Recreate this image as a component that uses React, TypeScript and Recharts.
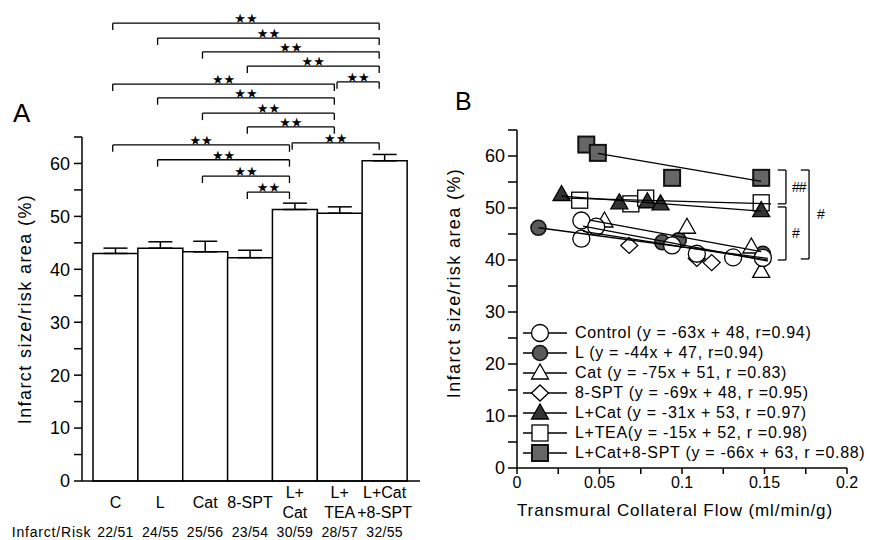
import React from "react";
import {
  BarChart,
  Bar,
  XAxis,
  YAxis,
  ErrorBar,
  ReferenceLine,
  ScatterChart,
  Scatter,
  Legend,
} from "recharts";

const FONT = "'Liberation Sans', Arial, Helvetica, sans-serif";

// ---- panel A ----
const groups = ["C", "L", "Cat", "8-SPT", "L+Cat", "L+TEA", "L+Cat+8-SPT"];
const groupTickLines = [["C"], ["L"], ["Cat"], ["8-SPT"], ["L+", "Cat"], ["L+", "TEA"], ["L+Cat", "+8-SPT"]];
const infarctSize = [43.0, 44.0, 43.3, 42.2, 51.3, 50.6, 60.5];
const infarctSem = [1.0, 1.2, 2.0, 1.4, 1.2, 1.2, 1.2];
const infarctRisk = ["22/51", "24/55", "25/56", "23/54", "30/59", "28/57", "32/55"];
const yTicks = [0, 5, 10, 15, 20, 25, 30, 35, 40, 45, 50, 55, 60, 65];

// significance brackets: from, to, level
const brackets: [string, string, number][] = [
  ["C", "L+Cat+8-SPT", 86.5],
  ["L", "L+Cat+8-SPT", 83.7],
  ["Cat", "L+Cat+8-SPT", 81.1],
  ["8-SPT", "L+Cat+8-SPT", 78.4],
  ["C", "L+TEA", 75.0],
  ["L+TEA", "L+Cat+8-SPT", 75.4],
  ["L", "L+TEA", 72.4],
  ["Cat", "L+TEA", 69.5],
  ["8-SPT", "L+TEA", 66.9],
  ["C", "L+Cat", 63.5],
  ["L+Cat", "L+Cat+8-SPT", 63.9],
  ["L", "L+Cat", 60.7],
  ["Cat", "L+Cat", 57.6],
  ["8-SPT", "L+Cat", 54.6],
];

// ---- panel B ----
const flowTicks = [0, 0.025, 0.05, 0.075, 0.1, 0.125, 0.15, 0.175, 0.2];
const flowTickLabels = ["0", "", "0.05", "", "0.1", "", "0.15", "", "0.2"];

const controlPts = [[0.039, 47.6], [0.039, 44.1], [0.048, 46.4], [0.094, 42.8], [0.109, 41.2], [0.131, 40.5], [0.149, 40.4]];
const lPts = [[0.013, 46.2], [0.088, 43.4], [0.098, 43.8], [0.149, 41.2]];
const catPts = [[0.053, 47.5], [0.103, 46.3], [0.142, 42.5], [0.148, 37.8]];
const sptPts = [[0.068, 42.8], [0.109, 40.3], [0.118, 39.5]];
const lCatPts = [[0.027, 52.6], [0.062, 51.0], [0.079, 51.2], [0.087, 50.8], [0.148, 49.5]];
const lTeaPts = [[0.038, 51.5], [0.069, 50.8], [0.078, 51.9], [0.148, 51.0]];
const lCatSptPts = [[0.042, 62.2], [0.049, 60.6], [0.094, 55.8], [0.148, 55.8]];

// regression line ends as drawn
const controlFit = [[0.04, 46.5], [0.152, 39.8]];
const lFit = [[0.013, 46.2], [0.152, 40.3]];
const catFit = [[0.045, 47.6], [0.148, 41.6]];
const sptFit = [[0.04, 45.5], [0.152, 40.0]];
const lCatFit = [[0.027, 52.3], [0.148, 49.4]];
const lTeaFit = [[0.03, 51.9], [0.154, 50.8]];
const lCatSptFit = [[0.049, 60.5], [0.148, 55.1]];

// B brackets: x, top, bottom, mark
const bBrackets: [number, number, number, string][] = [
  [0.163, 57.3, 50.8, "##"],
  [0.163, 50.2, 40.0, "#"],
  [0.177, 57.3, 40.2, "#"],
];

type Kind = "circle" | "dot" | "tri" | "diamond" | "ftri" | "square" | "fsquare";

const seriesB: { label: string; kind: Kind; pts: number[][]; fit: number[][] }[] = [
  { label: "L+TEA(y = -15x + 52, r =0.98)", kind: "square", pts: lTeaPts, fit: lTeaFit },
  { label: "L+Cat (y = -31x + 53, r =0.97)", kind: "ftri", pts: lCatPts, fit: lCatFit },
  { label: "L+Cat+8-SPT (y = -66x + 63, r =0.88)", kind: "fsquare", pts: lCatSptPts, fit: lCatSptFit },
  { label: "L (y = -44x + 47, r=0.94)", kind: "dot", pts: lPts, fit: lFit },
  { label: "8-SPT (y = -69x + 48, r =0.95)", kind: "diamond", pts: sptPts, fit: sptFit },
  { label: "Cat (y = -75x + 51, r =0.83)", kind: "tri", pts: catPts, fit: catFit },
  { label: "Control (y = -63x + 48, r=0.94)", kind: "circle", pts: controlPts, fit: controlFit },
];
const legendOrder: Kind[] = ["circle", "dot", "tri", "diamond", "ftri", "square", "fsquare"];

const Marker = ({ kind, cx, cy }: { kind: Kind; cx: number; cy: number }) => {
  switch (kind) {
    case "circle":
      return <circle cx={cx} cy={cy} r={8.5} fill="#fff" stroke="#000" strokeWidth={1.3} />;
    case "dot":
      return <circle cx={cx} cy={cy} r={7.5} fill="#5a5a5a" stroke="#111" strokeWidth={1.6} />;
    case "tri":
      return <polygon points={`${cx},${cy - 9} ${cx + 8.5},${cy + 6} ${cx - 8.5},${cy + 6}`} fill="#fff" stroke="#000" strokeWidth={1.3} />;
    case "ftri":
      return <polygon points={`${cx},${cy - 9} ${cx + 8.5},${cy + 6} ${cx - 8.5},${cy + 6}`} fill="#333" stroke="#000" strokeWidth={1.3} />;
    case "diamond":
      return <polygon points={`${cx},${cy - 8} ${cx + 8.5},${cy} ${cx},${cy + 8} ${cx - 8.5},${cy}`} fill="#fff" stroke="#000" strokeWidth={1.3} />;
    case "square":
      return <rect x={cx - 8} y={cy - 8} width={16} height={16} fill="#fff" stroke="#000" strokeWidth={1.3} />;
    default:
      return <rect x={cx - 8} y={cy - 8} width={16} height={16} fill="#666" stroke="#111" strokeWidth={2} />;
  }
};

const BarTick = (props: any) => {
  const { x, y, payload } = props;
  const i = groups.indexOf(payload.value);
  const lines = groupTickLines[i] || [payload.value];
  return (
    <g fill="#000" fontSize={16}>
      {lines.length === 1 ? (
        <text x={x} y={y + 27} textAnchor="middle">{lines[0]}</text>
      ) : (
        lines.map((l, k) => (
          <text key={k} x={x} y={y + 17 + k * 20} textAnchor="middle">{l}</text>
        ))
      )}
      <text x={x} y={y + 56} textAnchor="middle" fontSize={14} letterSpacing={0.3}>{infarctRisk[i]}</text>
      {i === 0 && (
        <text x={x - 24} y={y + 56} textAnchor="end" fontSize={14} letterSpacing={0.8}>Infarct/Risk</text>
      )}
    </g>
  );
};

const yLabel = (cx: number, dy: number) => (props: any) => {
  const vb = props.viewBox || {};
  const x = (vb.x || 0) + cx;
  const y = (vb.y || 0) + (vb.height || 0) / 2 + dy;
  return (
    <text x={x} y={y} transform={`rotate(-90 ${x} ${y})`} textAnchor="middle" dominantBaseline="middle" fontSize={18} letterSpacing={1.4} fill="#000">
      Infarct size/risk area (%)
    </text>
  );
};

const xLabelB = (props: any) => {
  const vb = props.viewBox || {};
  const x = (vb.x || 0) + (vb.width || 0) / 2 - 7;
  const y = (vb.y || 0) + 48;
  return (
    <text x={x} y={y} textAnchor="middle" fontSize={17} letterSpacing={0.9} fill="#000">
      Transmural Collateral Flow (ml/min/g)
    </text>
  );
};

const axisStyle = { stroke: "#000", strokeWidth: 1.5 };

const PanelA = () => {
  const data = groups.map((g, i) => ({ group: g, idx: i, value: infarctSize[i], err: [0, infarctSem[i]] }));
  const idx = (g: string) => groups.indexOf(g);
  const drop = 1.3;
  return (
    <BarChart width={435} height={540} data={data} margin={{ top: 137, right: 15, bottom: 0, left: 0 }} barCategoryGap={0} barGap={0}>
      <XAxis
        dataKey="group"
        interval={0}
        height={59}
        tickLine={false}
        tickSize={0}
        tickMargin={0}
        axisLine={axisStyle}
        tick={<BarTick />}
        padding={{ left: 11, right: 13 }}
      />
      <XAxis xAxisId="n" type="number" dataKey="idx" domain={[-0.5, 6.5]} allowDataOverflow hide padding={{ left: 11, right: 13 }} />
      <YAxis
        type="number"
        domain={[0, 65]}
        ticks={yTicks}
        interval={0}
        width={82}
        tickSize={8}
        tickMargin={4}
        axisLine={axisStyle}
        tickLine={axisStyle}
        tick={{ fill: "#000", fontSize: 18 }}
        tickFormatter={(v: number) => (v % 10 === 0 ? String(v) : "")}
        label={yLabel(26, 0)}
      />
      <Bar dataKey="value" fill="#fff" stroke="#000" strokeWidth={1.5} isAnimationActive={false}>
        <ErrorBar dataKey="err" width={12} stroke="#000" strokeWidth={1.5} direction="y" />
      </Bar>
      {brackets.flatMap(([from, to, level], k) => {
        const x1 = idx(from) - 0.06;
        const x2 = idx(to) - 0.12;
        const common = { xAxisId: "n", ifOverflow: "visible" as const, stroke: "#000", strokeWidth: 1.3 };
        return [
          <ReferenceLine key={`a${k}`} {...common} segment={[{ x: x1, y: level - drop }, { x: x1, y: level }]} />,
          <ReferenceLine
            key={`b${k}`}
            {...common}
            segment={[{ x: x1, y: level }, { x: x2, y: level }]}
            label={{ value: "★★", position: "top", offset: 0, fontSize: 13, fill: "#000", fontFamily: "DejaVu Sans" }}
          />,
          <ReferenceLine key={`c${k}`} {...common} segment={[{ x: x2, y: level }, { x: x2, y: level - drop }]} />,
        ];
      })}
    </BarChart>
  );
};

const LegendB = () => (
  <div style={{ fontSize: 16, letterSpacing: 0.7, color: "#000", fontFamily: FONT }}>
    {legendOrder.map((kind) => {
      const s = seriesB.find((e) => e.kind === kind)!;
      return (
        <div key={kind} style={{ display: "flex", alignItems: "center", height: 20, whiteSpace: "nowrap" }}>
          <svg width={52} height={20} style={{ flex: "none" }}>
            <line x1={0} x2={44} y1={10} y2={10} stroke="#000" strokeWidth={1.3} />
            <Marker kind={kind} cx={17} cy={10} />
          </svg>
          <span>{s.label}</span>
        </div>
      );
    })}
  </div>
);

const PanelB = () => {
  const toXY = (arr: number[][]) => arr.map(([x, y]) => ({ x, y }));
  const arm = 0.005;
  return (
    <ScatterChart width={435} height={540} margin={{ top: 130, right: 23, bottom: 0, left: 0 }}>
      <XAxis
        type="number"
        dataKey="x"
        domain={[0, 0.2]}
        ticks={flowTicks}
        interval={0}
        height={72}
        tickSize={6}
        tickMargin={3}
        axisLine={axisStyle}
        tickLine={axisStyle}
        tick={{ fill: "#000", fontSize: 16 }}
        tickFormatter={(_v: number, i: number) => flowTickLabels[i] ?? ""}
        label={xLabelB}
      />
      <YAxis
        type="number"
        dataKey="y"
        domain={[0, 65]}
        ticks={yTicks}
        interval={0}
        width={82}
        tickSize={9}
        tickMargin={3}
        axisLine={axisStyle}
        tickLine={axisStyle}
        tick={{ fill: "#000", fontSize: 18 }}
        tickFormatter={(v: number) => (v % 10 === 0 ? String(v) : "")}
        label={yLabel(20, -16)}
      />
      {seriesB.map((s) => (
        <Scatter
          key={`p-${s.kind}`}
          name={s.label}
          data={toXY(s.pts)}
          isAnimationActive={false}
          shape={(p: any) => <Marker kind={s.kind} cx={p.cx} cy={p.cy} />}
        />
      ))}
      {seriesB.map((s) => (
        <Scatter
          key={`f-${s.kind}`}
          data={toXY(s.fit)}
          isAnimationActive={false}
          line={{ stroke: "#000", strokeWidth: 1.3 }}
          shape={() => <g />}
          legendType="none"
        />
      ))}
      {bBrackets.flatMap(([x, top, bottom, mark], k) => {
        const common = { ifOverflow: "visible" as const, stroke: "#000", strokeWidth: 1.3 };
        return [
          <ReferenceLine key={`t${k}`} {...common} segment={[{ x: x - arm, y: top }, { x, y: top }]} />,
          <ReferenceLine
            key={`v${k}`}
            {...common}
            segment={[{ x, y: top }, { x, y: bottom }]}
            label={{ value: mark, position: "right", offset: k === 2 ? 8 : 6, fontSize: 14, fill: "#000", letterSpacing: -1 }}
          />,
          <ReferenceLine key={`b${k}`} {...common} segment={[{ x, y: bottom }, { x: x - arm, y: bottom }]} />,
        ];
      })}
      <Legend
        layout="vertical"
        align="center"
        verticalAlign="middle"
        content={() => <LegendB />}
        wrapperStyle={{ left: 88, top: 323, width: 340 }}
      />
    </ScatterChart>
  );
};

export default function App() {
  return (
    <div style={{ position: "absolute", left: 0, top: 0, width: 870, height: 540, background: "#fff", fontFamily: FONT, overflow: "hidden" }}>
      <div style={{ position: "absolute", left: 0, top: 0 }}>
        <PanelA />
      </div>
      <div style={{ position: "absolute", left: 435, top: 0 }}>
        <PanelB />
      </div>
      <div style={{ position: "absolute", left: 13, top: 100, fontSize: 26, lineHeight: "26px" }}>A</div>
      <div style={{ position: "absolute", left: 455, top: 89, fontSize: 25, lineHeight: "25px" }}>B</div>
    </div>
  );
}
